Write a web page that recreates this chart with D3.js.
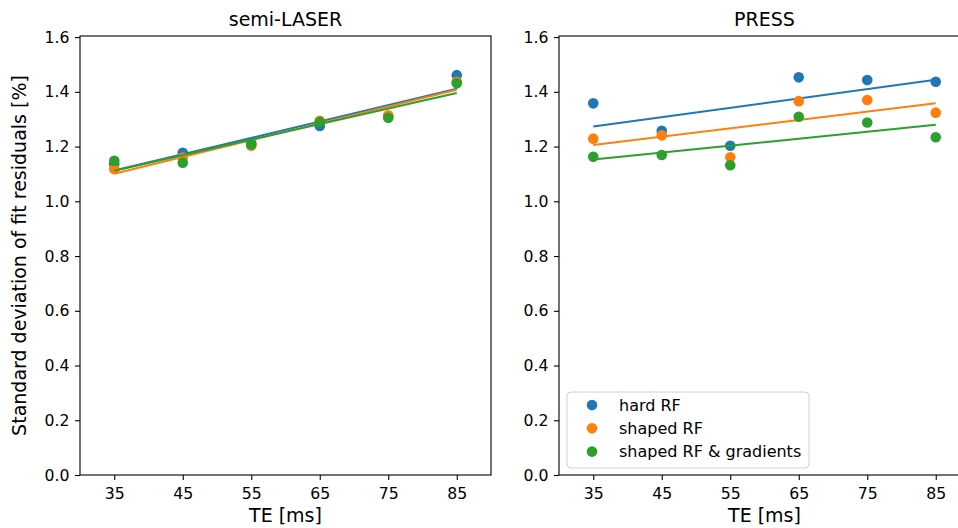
<!DOCTYPE html>
<html>
<head>
<meta charset="utf-8">
<script src="https://cdnjs.cloudflare.com/ajax/libs/d3/7.8.5/d3.min.js"></script>
<style>
  body { margin: 0; background: #fff; }
  svg { display: block; font-family: "DejaVu Sans", sans-serif; }
</style>
</head>
<body>
<div id="chart"></div>
<script>
// TE values [ms]
var te = [35, 45, 55, 65, 75, 85];
var seriesNames = ["hard RF", "shaped RF", "shaped RF & gradients"];
var colors = ["#1f77b4", "#ff7f0e", "#2ca02c"];
var xTicks = [35, 45, 55, 65, 75, 85];
var yTicks = [0.0, 0.2, 0.4, 0.6, 0.8, 1.0, 1.2, 1.4, 1.6];

// semi-LASER
var slHard   = [1.135, 1.177, 1.212, 1.275, 1.310, 1.461];
var slShaped = [1.118, 1.160, 1.203, 1.294, 1.314, 1.437];
var slGrad   = [1.148, 1.141, 1.208, 1.290, 1.305, 1.431];

// PRESS
var prHard   = [1.358, 1.258, 1.203, 1.453, 1.443, 1.437];
var prShaped = [1.229, 1.241, 1.161, 1.366, 1.370, 1.324];
var prGrad   = [1.163, 1.169, 1.132, 1.309, 1.288, 1.234];

var width = 958, height = 528;
var svg = d3.select("#chart").append("svg")
    .attr("width", width)
    .attr("height", height);

// least squares fit, like the original regression lines
function fit(xs, ys) {
    var mx = d3.mean(xs), my = d3.mean(ys);
    var sxy = d3.sum(xs, function(x, i) { return (x - mx) * (ys[i] - my); });
    var sxx = d3.sum(xs, function(x) { return (x - mx) * (x - mx); });
    var b = sxy / sxx;
    return function(x) { return my + b * (x - mx); };
}

function drawPanel(left, title, series, showYLabel, showLegend) {
    var top = 36, bottom = 475, w = 411;
    var x = d3.scaleLinear().domain([30, 90]).range([left, left + w]);
    var y = d3.scaleLinear().domain([0, 1.604]).range([bottom, top]);
    var g = svg.append("g");

    // data
    series.forEach(function(vals, k) {
        g.selectAll(".dot" + k)
            .data(vals)
            .enter()
            .append("circle")
            .attr("class", "dot" + k)
            .attr("cx", function(d, i) { return x(te[i]); })
            .attr("cy", function(d) { return y(d); })
            .attr("r", 5.3)
            .attr("fill", colors[k]);

        var f = fit(te, vals);
        var ends = [te[0], te[te.length - 1]];
        g.append("path")
            .datum(ends)
            .attr("fill", "none")
            .attr("stroke", colors[k])
            .attr("stroke-width", 2)
            .attr("d", d3.line()
                .x(function(d) { return x(d); })
                .y(function(d) { return y(f(d)); }));
    });

    // axes
    var xAxis = g.append("g")
        .attr("transform", "translate(0," + bottom + ")")
        .call(d3.axisBottom(x).tickValues(xTicks).tickSize(5).tickPadding(5));
    var yAxis = g.append("g")
        .attr("transform", "translate(" + left + ",0)")
        .call(d3.axisLeft(y).tickValues(yTicks).tickFormat(d3.format(".1f")).tickSize(5).tickPadding(5.5));
    [xAxis, yAxis].forEach(function(a) {
        a.select(".domain").remove();
        a.selectAll(".tick line").attr("stroke", "#000").attr("stroke-width", 1.1);
        a.selectAll(".tick text")
            .attr("fill", "#000")
            .style("font-family", "DejaVu Sans, sans-serif")
            .style("font-size", "15.7px");
    });
    xAxis.selectAll(".tick text").attr("dy", "0.9em");

    g.append("rect")
        .attr("x", left)
        .attr("y", top)
        .attr("width", w)
        .attr("height", bottom - top)
        .attr("fill", "none")
        .attr("stroke", "#000")
        .attr("stroke-width", 1.1);

    g.append("text")
        .attr("x", left + w / 2)
        .attr("y", top - 10)
        .attr("text-anchor", "middle")
        .attr("font-size", 19)
        .text(title);

    g.append("text")
        .attr("x", left + w / 2)
        .attr("y", 522)
        .attr("text-anchor", "middle")
        .attr("font-size", 19)
        .text("TE [ms]");

    if (showYLabel) {
        g.append("text")
            .attr("transform", "translate(26," + (top + bottom) / 2 + ") rotate(-90)")
            .attr("text-anchor", "middle")
            .attr("font-size", 19)
            .text("Standard deviation of fit residuals [%]");
    }

    if (showLegend) {
        var lg = g.append("g").attr("transform", "translate(" + (left + 8) + ",392)");
        lg.append("rect")
            .attr("width", 242)
            .attr("height", 76)
            .attr("rx", 4)
            .attr("fill", "#fff")
            .attr("fill-opacity", 0.8)
            .attr("stroke", "#d0d0d0");
        var item = lg.selectAll(".item")
            .data(seriesNames)
            .enter()
            .append("g")
            .attr("class", "item")
            .attr("transform", function(d, i) { return "translate(0," + (13 + i * 23.3) + ")"; });
        item.append("circle")
            .attr("cx", 25)
            .attr("r", 5.3)
            .attr("fill", function(d, i) { return colors[i]; });
        item.append("text")
            .attr("x", 52)
            .attr("dy", "0.35em")
            .attr("font-size", 16)
            .text(function(d) { return d; });
    }
}

drawPanel(80, "semi-LASER", [slHard, slShaped, slGrad], true, false);
drawPanel(559, "PRESS", [prHard, prShaped, prGrad], false, true);
</script>
</body>
</html>
